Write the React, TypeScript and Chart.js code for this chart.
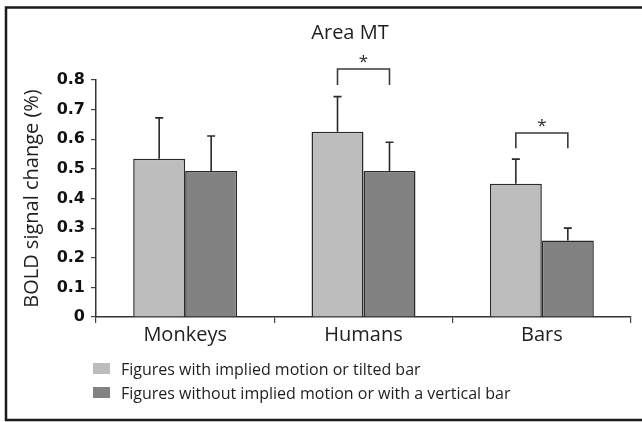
import { useEffect, useRef } from "react";
import { Chart, registerables } from "chart.js";

Chart.register(...registerables);

const chartTitle = "Area MT";
const yAxisTitle = "BOLD signal change (%)";
const categories = ["Monkeys", "Humans", "Bars"];
const seriesLabels = [
  "Figures with implied motion or tilted bar",
  "Figures without implied motion or with a vertical bar",
];
const impliedValues = [0.534, 0.625, 0.45];
const impliedErrorTop = [0.672, 0.744, 0.533];
const verticalValues = [0.493, 0.493, 0.258];
const verticalErrorTop = [0.611, 0.59, 0.3];
const yTickValues = [0, 0.1, 0.2, 0.3, 0.4, 0.5, 0.6, 0.7, 0.8];
// significance brackets: category index, bracket top, leg bottom, star level
const sigCategories = [1, 2];
const sigBracketTop = [0.837, 0.621];
const sigLegBottom = [0.783, 0.57];
const sigStarLevel = [0.874, 0.658];

const LIGHT = "#bdbdbd";
const DARK = "#828282";
const INK = "#2a2a2a";
const FONT = "'Open Sans', 'Noto Sans', sans-serif";

export default function App() {
  const ref = useRef<HTMLCanvasElement | null>(null);

  useEffect(() => {
    document.body.style.margin = "0";
    const canvas = ref.current;
    if (!canvas) return;

    const errorTops = [impliedErrorTop, verticalErrorTop];

    const decor = {
      id: "decor",
      beforeDraw(chart: any) {
        const ctx = chart.ctx;
        ctx.save();
        ctx.fillStyle = "#ffffff";
        ctx.fillRect(0, 0, chart.width, chart.height);
        ctx.strokeStyle = "#1a1a1a";
        ctx.lineWidth = 2.5;
        ctx.strokeRect(6, 7.5, chart.width + 10, 412.5);
        ctx.restore();
      },
      afterDatasetsDraw(chart: any) {
        const ctx = chart.ctx;
        const y = chart.scales.y;
        ctx.save();
        // error bars
        ctx.strokeStyle = INK;
        ctx.lineWidth = 1.6;
        [0, 1].forEach((di) => {
          const meta = chart.getDatasetMeta(di);
          meta.data.forEach((el: any, j: number) => {
            const yTop = y.getPixelForValue(errorTops[di][j]);
            ctx.beginPath();
            ctx.moveTo(el.x, el.y);
            ctx.lineTo(el.x, yTop);
            ctx.moveTo(el.x - 4, yTop);
            ctx.lineTo(el.x + 4, yTop);
            ctx.stroke();
          });
        });
        // significance brackets
        const m0 = chart.getDatasetMeta(0);
        const m1 = chart.getDatasetMeta(1);
        sigCategories.forEach((c, k) => {
          const x1 = m0.data[c].x;
          const x2 = m1.data[c].x;
          const top = y.getPixelForValue(sigBracketTop[k]);
          const bot = y.getPixelForValue(sigLegBottom[k]);
          ctx.strokeStyle = "#3a3a3a";
          ctx.lineWidth = 1.6;
          ctx.beginPath();
          ctx.moveTo(x1, bot);
          ctx.lineTo(x1, top);
          ctx.lineTo(x2, top);
          ctx.lineTo(x2, bot);
          ctx.stroke();
          ctx.fillStyle = INK;
          ctx.font = `17px ${FONT}`;
          ctx.textAlign = "center";
          ctx.textBaseline = "alphabetic";
          ctx.fillText("*", (x1 + x2) / 2, y.getPixelForValue(sigStarLevel[k]) + 9);
        });
        // title
        ctx.fillStyle = "#1e1e1e";
        ctx.font = `20px ${FONT}`;
        ctx.textAlign = "center";
        ctx.textBaseline = "alphabetic";
        ctx.fillText(chartTitle, 350, 39);
        // legend
        const colors = [LIGHT, DARK];
        ctx.font = `16px ${FONT}`;
        ctx.textAlign = "left";
        seriesLabels.forEach((label, i) => {
          const base = 375 + i * 24;
          ctx.fillStyle = colors[i];
          ctx.fillRect(93, base - 12, 17, 11);
          ctx.fillStyle = "#1e1e1e";
          ctx.fillText(label, 121, base);
        });
        ctx.restore();
      },
    };

    const chart = new Chart(canvas, {
      type: "bar",
      data: {
        labels: categories,
        datasets: [
          {
            label: seriesLabels[0],
            data: impliedValues,
            backgroundColor: LIGHT,
            borderColor: INK,
            borderWidth: 1.5,
            categoryPercentage: 0.583,
            barPercentage: 1,
          },
          {
            label: seriesLabels[1],
            data: verticalValues,
            backgroundColor: DARK,
            borderColor: INK,
            borderWidth: 1.5,
            categoryPercentage: 0.583,
            barPercentage: 1,
          },
        ],
      },
      options: {
        responsive: false,
        animation: false,
        layout: { padding: { left: 0, right: 11, top: 80, bottom: 0 } },
        plugins: {
          legend: { display: false },
          title: { display: false },
          tooltip: { enabled: false },
        },
        scales: {
          x: {
            afterFit: (s: any) => {
              s.height = 105;
            },
            grid: {
              offset: true,
              drawOnChartArea: false,
              drawTicks: true,
              tickLength: 6,
              color: "#444",
              lineWidth: 1.2,
            },
            border: { color: "#333", width: 1.5 },
            ticks: {
              color: "#222",
              font: { family: FONT, size: 20 },
              padding: 0,
            },
          },
          y: {
            min: 0,
            max: 0.8,
            afterFit: (s: any) => {
              s.width = 96;
            },
            afterBuildTicks: (s: any) => {
              s.ticks = yTickValues.map((v) => ({ value: v }));
            },
            grid: {
              drawOnChartArea: false,
              drawTicks: true,
              tickLength: 5,
              color: "#444",
              lineWidth: 1.2,
            },
            border: { color: "#333", width: 1.5 },
            ticks: {
              color: "#111",
              padding: 6,
              font: { family: "'DejaVu Sans', sans-serif", size: 16, weight: "bold" },
              callback: (v: any) => (Number(v) === 0 ? "0" : Number(v).toFixed(1)),
            },
            title: {
              display: true,
              text: yAxisTitle,
              color: "#1e1e1e",
              font: { family: FONT, size: 20 },
              padding: { top: 20, bottom: 0 },
            },
          },
        },
      },
      plugins: [decor],
    });

    return () => chart.destroy();
  }, []);

  return (
    <div style={{ width: 642, height: 422 }}>
      <canvas ref={ref} width={642} height={422} />
    </div>
  );
}
